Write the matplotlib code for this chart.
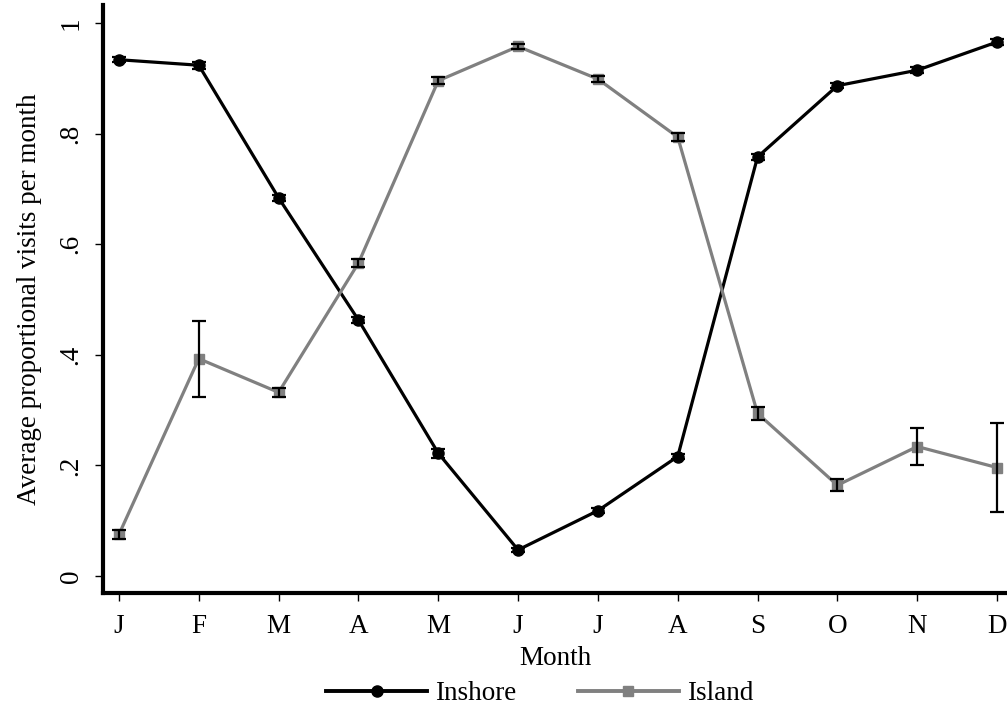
import matplotlib
matplotlib.use("Agg")
import matplotlib.pyplot as plt
from matplotlib.lines import Line2D
import numpy as np

plt.rcParams['font.family'] = ['Liberation Serif', 'DejaVu Serif']

months = ["J", "F", "M", "A", "M", "J", "J", "A", "S", "O", "N", "D"]

inshore_mean = [0.934, 0.924, 0.684, 0.463, 0.222, 0.047, 0.118, 0.216, 0.758, 0.887, 0.915, 0.966]
inshore_lo = [0.929, 0.918, 0.679, 0.457, 0.214, 0.043, 0.113, 0.211, 0.753, 0.882, 0.910, 0.961]
inshore_hi = [0.939, 0.930, 0.689, 0.469, 0.230, 0.051, 0.123, 0.221, 0.763, 0.892, 0.920, 0.971]

island_mean = [0.075, 0.393, 0.332, 0.566, 0.896, 0.958, 0.899, 0.794, 0.294, 0.164, 0.234, 0.196]
island_lo = [0.067, 0.323, 0.324, 0.559, 0.890, 0.953, 0.893, 0.787, 0.282, 0.153, 0.200, 0.115]
island_hi = [0.083, 0.461, 0.340, 0.573, 0.902, 0.963, 0.905, 0.801, 0.306, 0.175, 0.267, 0.276]

yticks = [0, 0.2, 0.4, 0.6, 0.8, 1.0]
ytick_labels = ["0", ".2", ".4", ".6", ".8", "1"]

x = np.arange(1, len(months) + 1)

fs = 19.5

fig = plt.figure(figsize=(10.07, 7.10), dpi=100)
ax = fig.add_axes([103 / 1007, 117 / 710, 1 - 103 / 1007, (593 - 5) / 710])

black = "#000000"
gray = "#808080"

ax.plot(x, inshore_mean, color=black, lw=2.3, marker="o", ms=8,
        mfc=black, mec=black, zorder=3)
ax.plot(x, island_mean, color=gray, lw=2.3, marker="s", ms=7.5,
        mfc=gray, mec=gray, zorder=3)

for mean, lo, hi in ((inshore_mean, inshore_lo, inshore_hi),
                     (island_mean, island_lo, island_hi)):
    mean = np.asarray(mean)
    err = np.vstack([mean - np.asarray(lo), np.asarray(hi) - mean])
    ax.errorbar(x, mean, yerr=err, fmt="none", ecolor=black, elinewidth=1.6,
                capsize=5, capthick=1.6, zorder=4)

ax.set_xlim(0.8, 12.125)
ax.set_ylim(-0.031, 1.033)

ax.set_xticks(x)
ax.set_xticklabels(months)
ax.set_yticks(yticks)
ax.set_yticklabels(ytick_labels, rotation=90, va="center")

ax.tick_params(axis="both", direction="out", length=6, width=1, labelsize=fs,
               color=black)
ax.tick_params(axis="x", pad=9)
ax.tick_params(axis="y", pad=8)

for side in ("top", "right"):
    ax.spines[side].set_visible(False)
for side in ("left", "bottom"):
    ax.spines[side].set_linewidth(3)
    ax.spines[side].set_color(black)

ax.set_xlabel("Month", fontsize=fs, labelpad=5)
ax.set_ylabel("Average proportional visits per month", fontsize=fs, labelpad=12)

handles = [
    Line2D([], [], color=black, lw=2.8, marker="o", ms=8, mfc=black, mec=black),
    Line2D([], [], color=gray, lw=2.8, marker="s", ms=7.5, mfc=gray, mec=gray),
]
fig.legend(handles, ["Inshore", "Island"], loc="center",
           bbox_to_anchor=(0.536, 16 / 710), ncol=2, frameon=False,
           fontsize=fs, handlelength=3.7, handletextpad=0.3, columnspacing=2.3,
           borderaxespad=0, borderpad=0)

fig.savefig("out.png", dpi=100)
